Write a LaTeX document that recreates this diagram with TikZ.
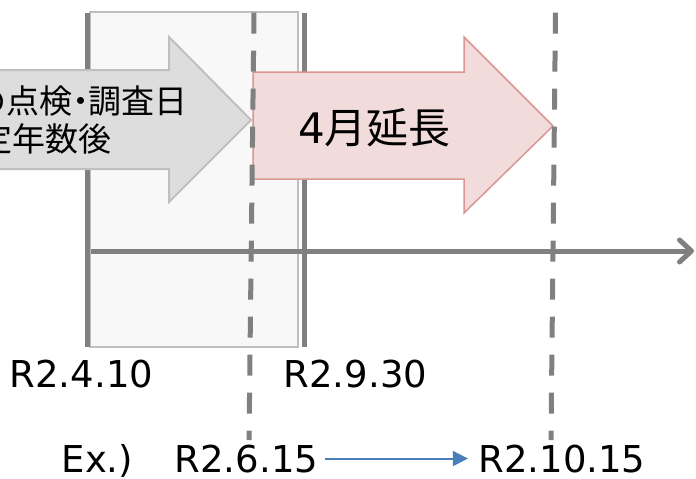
\documentclass[tikz,border=0pt]{standalone}
\usepackage{fontspec}
\setmainfont{DejaVu Sans}
\newfontfamily\jp[RawFeature=+palt]{Noto Sans CJK JP}
\usetikzlibrary{arrows.meta}
\definecolor{linegray}{RGB}{128,128,128}
\definecolor{boxfill}{RGB}{248,248,248}
\definecolor{boxdraw}{RGB}{191,191,191}
\definecolor{grayfill}{RGB}{221,221,221}
\definecolor{graydraw}{RGB}{191,191,191}
\definecolor{pinkfill}{RGB}{242,220,219}
\definecolor{pinkdraw}{RGB}{217,150,148}
\definecolor{exblue}{RGB}{74,126,187}
\begin{document}
\begin{tikzpicture}[x=1pt,y=-1pt,
  guide/.style={draw=linegray, line width=5pt},
  dashguide/.style={draw=linegray, line width=5pt, dash pattern=on 21pt off 17pt},
  datelbl/.style={inner sep=0pt, anchor=base west, font=\fontsize{37}{44}\selectfont},
  jplbl/.style={inner sep=0pt, anchor=base east, font=\jp\fontsize{33}{40}\selectfont},
  blockarrow/.style={line width=2pt, line join=miter},
  exarrow/.style={draw=exblue, line width=2pt, -{Triangle[length=15pt,width=15pt]}}
  ]
\useasboundingbox (0,0) rectangle (696,479);
\clip (0,0) rectangle (696,479);
\fill[white] (0,0) rectangle (696,479);
% period box
\draw[draw=boxdraw, fill=boxfill, line width=2pt] (90,12) rectangle (298,347);
% solid guides
\coordinate (s1t) at (87.5,12.7); \coordinate (s1b) at (87.5,347);
\coordinate (s2t) at (304,12.7);  \coordinate (s2b) at (304,347);
\draw[guide] (s1t) -- (s1b);
\draw[guide] (s2t) -- (s2b);
% time axis
\coordinate (axL) at (91,251); \coordinate (axR) at (694,251);
\draw[guide, -{Straight Barb[length=12pt,width=22pt,round]}] (axL) -- (axR);
% gray block arrow
\draw[blockarrow, draw=graydraw, fill=grayfill]
  (-20,70) -- (169,70) -- (169,37) -- (251,120) -- (169,202) -- (169,169) -- (-20,169) -- cycle;
\node[jplbl] (g1) at (188,113) {の点検・調査日};
\node[jplbl] (g2) at (112,151) {定年数後};
% pink block arrow
\draw[blockarrow, draw=pinkdraw, fill=pinkfill, line width=1.5pt]
  (253,72) -- (464,72) -- (464,37) -- (553,126) -- (464,213) -- (464,179) -- (253,179) -- cycle;
\node[inner sep=0pt, anchor=base west, font=\fontsize{42}{48}\selectfont] (ext) at (298,143) {4{\jp 月延長}};
% dashed guides
\coordinate (d1t) at (254,12.7);  \coordinate (d1b) at (249,440);
\coordinate (d2t) at (555.5,12.7); \coordinate (d2b) at (551,440);
\draw[dashguide] (d1t) -- (d1b);
\draw[dashguide] (d2t) -- (d2b);
% date labels
\node[datelbl] (r1) at (9.5,387) {R2.4.10};
\node[datelbl] (r2) at (283.5,387) {R2.9.30};
\node[datelbl] (ex) at (61.5,472) {Ex.)};
\node[datelbl] (e1) at (174.5,472) {R2.6.15};
\node[datelbl] (e2) at (478.4,472) {R2.10.15};
\draw[exarrow, shorten <=7pt, shorten >=10.5pt] (e1.east) -- (e2.west);
\end{tikzpicture}
\end{document}
